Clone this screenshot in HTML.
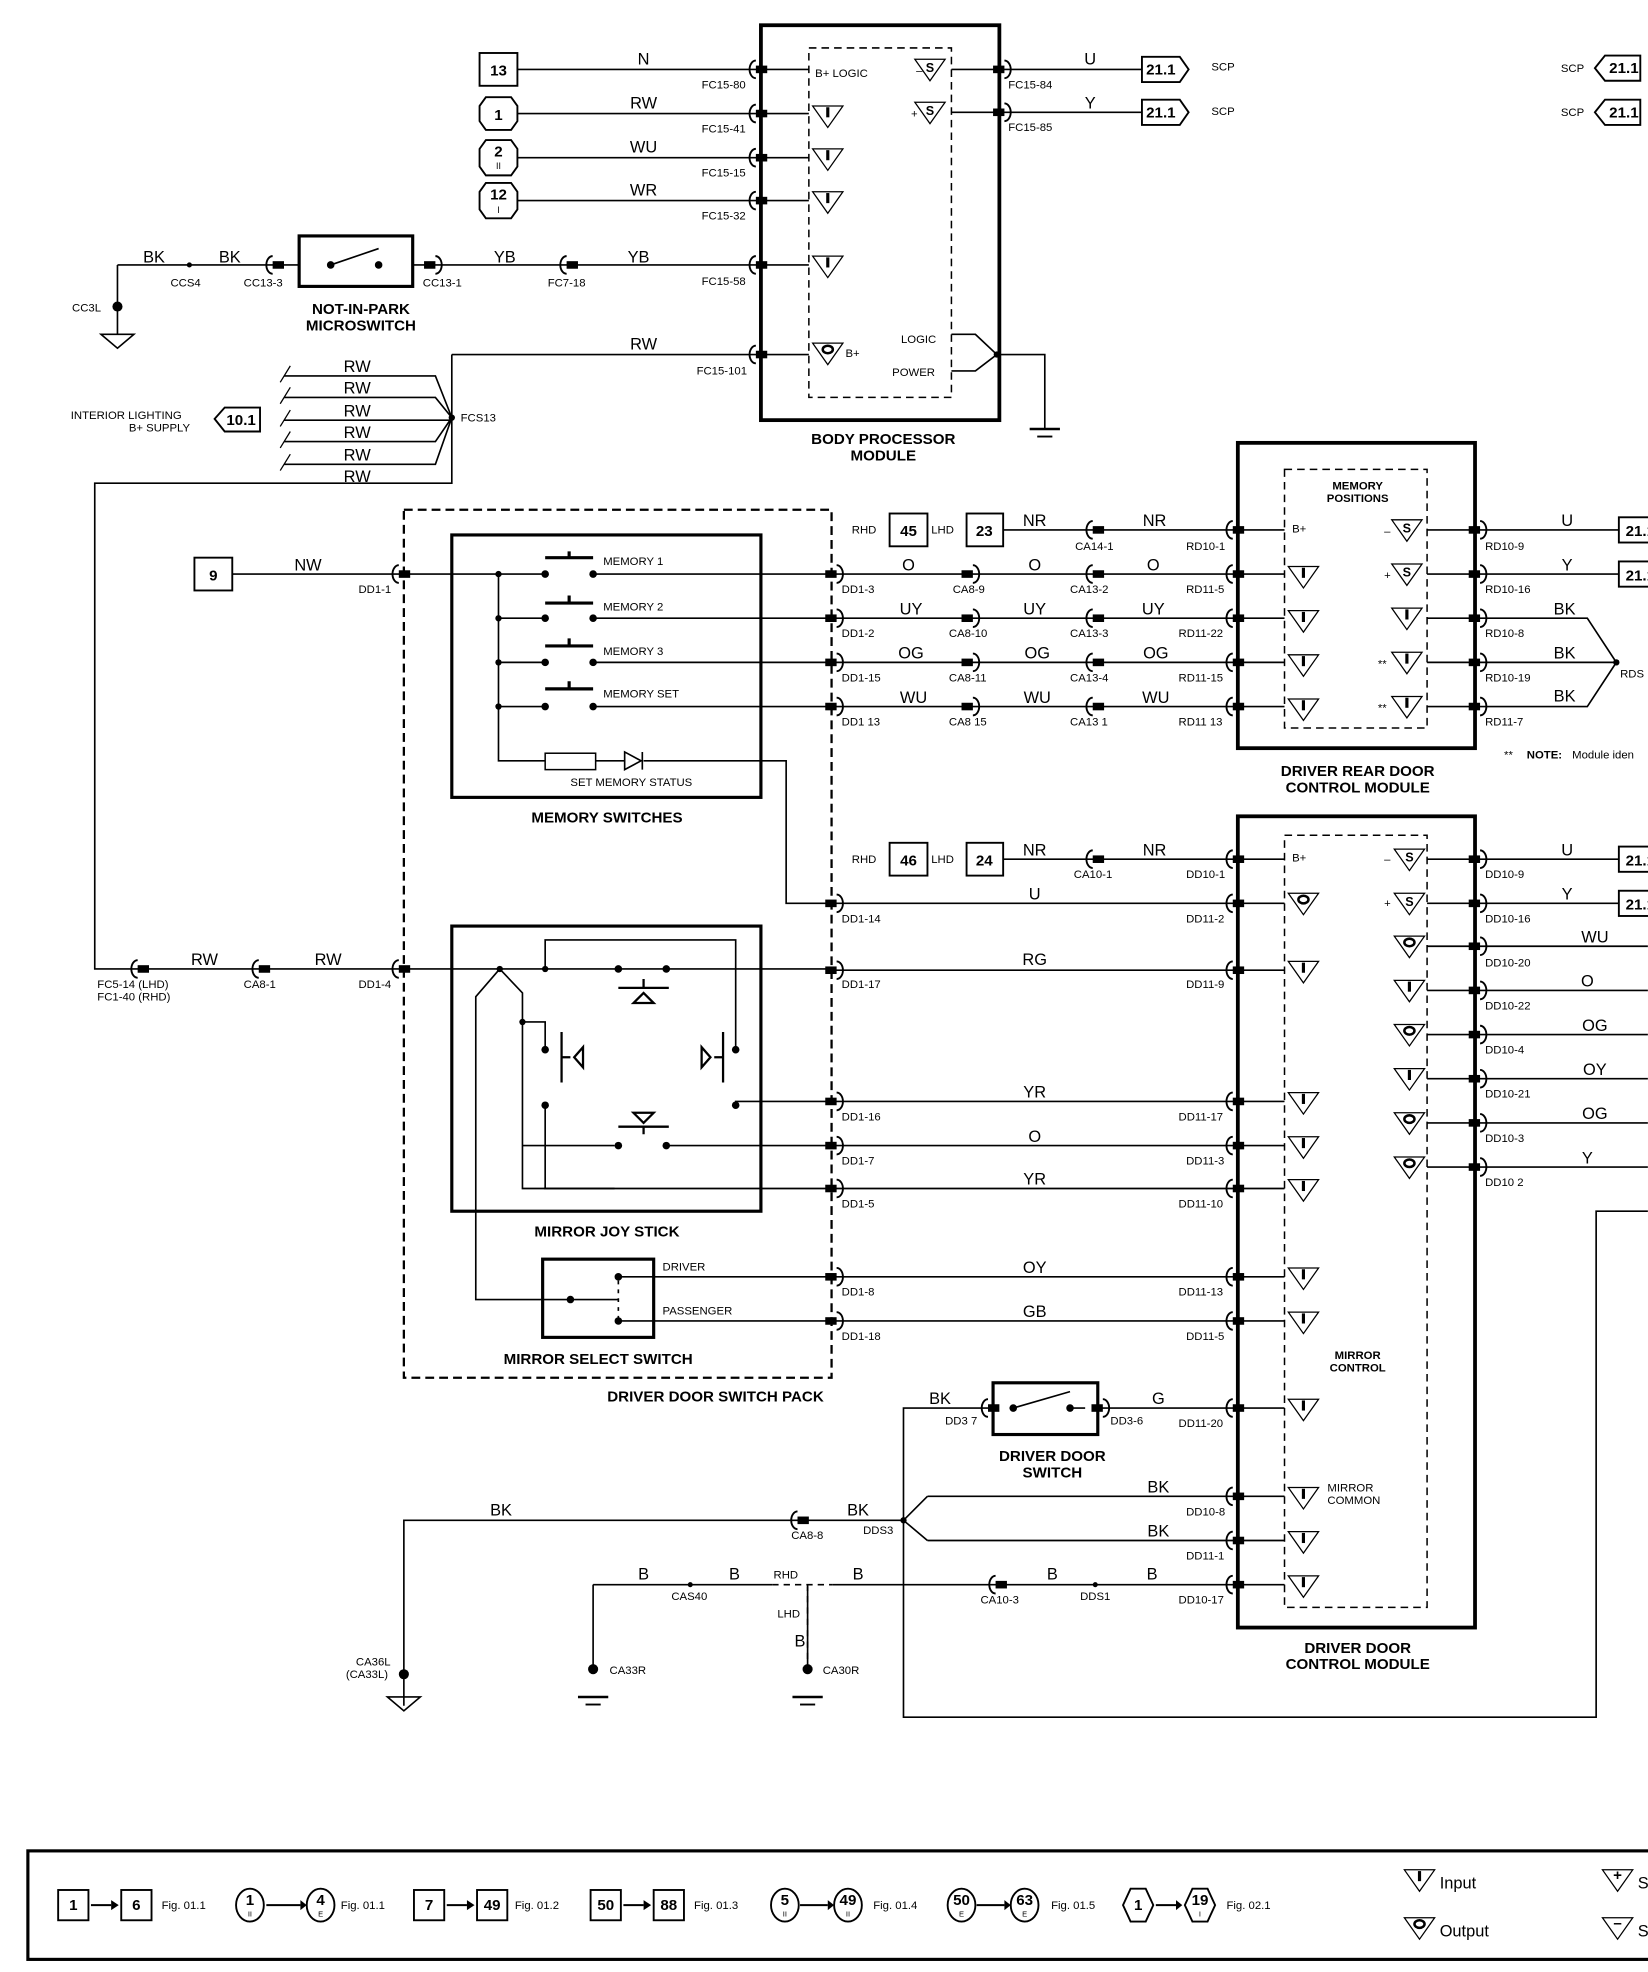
<!DOCTYPE html>
<html><head><meta charset="utf-8"><style>
html,body{margin:0;padding:0;background:#fff}
svg{display:block}
text{font-family:"Liberation Sans",sans-serif;fill:#000}
.w{font-size:13px}
.c{font-size:9px}
.b{font-size:12px;font-weight:bold}
.s{font-size:10px}
</style></head><body>
<svg width="1648" height="1972" viewBox="0 0 1306 1563" xmlns="http://www.w3.org/2000/svg">
<defs>
<g id="cl"><path d="M1,-7 A5,7 0 0 0 1,7" fill="none" stroke="#000" stroke-width="1.5"/><rect x="1" y="-3" width="9" height="6"/></g>
<g id="cr"><path d="M-1,-7 A5,7 0 0 1 -1,7" fill="none" stroke="#000" stroke-width="1.5"/><rect x="-10" y="-3" width="9" height="6"/></g>
<g id="ti"><polygon points="-12,-8 12,-8 0,9" fill="#fff" stroke="#000" stroke-width="1"/><line x1="0" y1="-7" x2="0" y2="1" stroke="#000" stroke-width="2.5"/></g>
<g id="to"><polygon points="-12,-8 12,-8 0,9" fill="#fff" stroke="#000" stroke-width="1"/><ellipse cx="0" cy="-3" rx="4" ry="3" fill="none" stroke="#000" stroke-width="2"/></g>
<g id="ts"><polygon points="-12,-8 12,-8 0,9" fill="#fff" stroke="#000" stroke-width="1"/></g>
<g id="gnd"><line x1="-12" y1="0" x2="12" y2="0" stroke="#000" stroke-width="2"/><line x1="-6" y1="6" x2="6" y2="6" stroke="#000" stroke-width="1.5"/></g>
</defs>
<g stroke="#000" fill="none" stroke-width="1.3">
<rect x="603" y="20" width="189" height="313" stroke-width="3"/>
<rect x="641" y="38" width="113" height="277" stroke-dasharray="6,4" stroke-width="1.2"/>
<path d="M410,55H641 M410,90H641 M410,125H641 M410,159H641 M327,210H641 M358,281H641"/>
<path d="M754,55H905 M754,89H905"/>
<path d="M754,265H773L790,281L773,294H754 M790,281H828V340"/>
<path d="M93,210H237 M93,210V265 M80,265L93,276L106,265Z"/>
<path d="M358,281V383H75V768H320"/>
<path d="M225,298H345L358,331 M225,315H345L358,331 M225,333H358 M225,350H345L358,331 M225,368H345L358,331"/>
<path d="M222,303L230,290 M222,320L230,307 M222,338L230,325 M222,355L230,342 M222,373L230,360" stroke-width="1"/>
<rect x="320" y="404" width="339" height="688" stroke-dasharray="7,4" stroke-width="1.8"/>
<rect x="358" y="424" width="245" height="208" stroke-width="2.5"/>
<path d="M184,455H432 M395,455V603H432 M395,490H432 M395,525H432 M395,560H432"/>
<path d="M470,455H659 M470,490H659 M470,525H659 M470,560H659"/>
<path d="M472,603H495 M510,603H623V716H659"/>
<rect x="432" y="597" width="40" height="13" stroke-width="1.2"/>
<path d="M495,596V610L508,603Z M509,596V610"/>
<path d="M432,442H470 M451,437V442" stroke-width="2.5"/>
<path d="M432,478H470 M451,472V478 M432,512H470 M451,506V512 M432,546H470 M451,540V546" stroke-width="2.5"/>
<rect x="981" y="351" width="188" height="242" stroke-width="3"/>
<rect x="1018" y="372" width="113" height="205" stroke-dasharray="6,4" stroke-width="1.2"/>
<path d="M795,420H1018 M659,455H1018 M659,490H1018 M659,525H1018 M659,560H1018"/>
<path d="M1131,420H1283 M1131,455H1283 M1131,490H1258L1281,525 M1131,525H1281 M1131,560H1258L1281,525"/>
<rect x="981" y="647" width="188" height="643" stroke-width="3"/>
<rect x="1018" y="662" width="113" height="612" stroke-dasharray="6,4" stroke-width="1.2"/>
<path d="M795,681H1018 M659,716H1018 M659,769H1018 M659,873H1018 M659,908H1018 M659,942H1018 M659,1012H1018 M659,1047H1018 M870,1116H1018 M735,1186H1018 M735,1221H1018 M470,1256H1018"/>
<path d="M1131,681H1283 M1131,716H1283 M1131,750H1306 M1131,785H1306 M1131,820H1306 M1131,855H1306 M1131,890H1306 M1131,925H1306"/>
<path d="M1306,960H1265V1361H716V1116H787"/>
<path d="M320,1352V1205H716L735,1186 M716,1205L735,1221"/>
<path d="M470,1256V1320 M640,1256V1320"/>
<path d="M612,1256H660" stroke="#fff" stroke-width="3"/>
<path d="M612,1256H660 M640,1256V1320" stroke-dasharray="5,4"/>
<rect x="358" y="734" width="245" height="226" stroke-width="2.5"/>
<path d="M320,768H615 M528,768H659 M432,768V745H583V832 M396,768L377,790V1030H452 M396,768L414,787V942H488 M414,810H432V830 M432,876V942H659 M583,876V873H659 M528,942H659"/>
<path d="M431,942H487" />
<path d="M528,908H659 M414,908H487"/>
<path d="M490,783H530 M510,776V783 M502,795L510,787L518,795Z M490,893H530 M510,893V899 M502,882L510,890L518,882Z" stroke-width="1.8"/>
<path d="M445,818V858 M445,838H452 M462,830V846L455,838Z M573,818V858 M566,838H573 M556,830V846L563,838Z" stroke-width="1.8"/>
<rect x="430" y="998" width="88" height="62" stroke-width="2.5"/>
<path d="M490,1012H659 M490,1047H659 M452,1030H490"/>
<path d="M490,1015V1045" stroke-dasharray="3,4"/>
<rect x="787" y="1096" width="83" height="41" stroke-width="2.5"/>
<path d="M800,1116H803 M848,1116H860 M803,1116L848,1103"/>
</g>
<g fill="#000">
<circle cx="150" cy="210" r="2"/><circle cx="262" cy="210" r="3"/><circle cx="300" cy="210" r="3"/>
<circle cx="358" cy="331" r="2.5"/><circle cx="790" cy="281" r="2.5"/><circle cx="1281" cy="525" r="2.5"/>
<circle cx="395" cy="455" r="2.5"/><circle cx="395" cy="490" r="2.5"/><circle cx="395" cy="525" r="2.5"/><circle cx="395" cy="560" r="2.5"/>
<circle cx="432" cy="455" r="3"/><circle cx="470" cy="455" r="3"/><circle cx="432" cy="490" r="3"/><circle cx="470" cy="490" r="3"/><circle cx="432" cy="525" r="3"/><circle cx="470" cy="525" r="3"/><circle cx="432" cy="560" r="3"/><circle cx="470" cy="560" r="3"/>
<circle cx="396" cy="768" r="2.5"/><circle cx="432" cy="768" r="2.5"/><circle cx="490" cy="768" r="3"/><circle cx="528" cy="768" r="3"/>
<circle cx="414" cy="810" r="2.5"/><circle cx="432" cy="832" r="3"/><circle cx="432" cy="876" r="3"/><circle cx="583" cy="832" r="3"/><circle cx="583" cy="876" r="3"/>
<circle cx="490" cy="908" r="3"/><circle cx="528" cy="908" r="3"/>
<circle cx="452" cy="1030" r="3"/><circle cx="490" cy="1012" r="3"/><circle cx="490" cy="1047" r="3"/>
<circle cx="803" cy="1116" r="3"/><circle cx="848" cy="1116" r="3"/>
<circle cx="716" cy="1205" r="2.5"/><circle cx="547" cy="1256" r="2"/><circle cx="868" cy="1256" r="2"/>
<circle cx="93" cy="243" r="4"/><circle cx="320" cy="1327" r="4"/><circle cx="470" cy="1323" r="4"/><circle cx="640" cy="1323" r="4"/>
</g>
<g fill="none" stroke="#000" stroke-width="1.3">
<path d="M307,1345L320,1356L333,1345Z"/>
</g>
<use href="#gnd" x="828" y="340"/><use href="#gnd" x="470" y="1345"/><use href="#gnd" x="640" y="1345"/>
<use href="#cl" x="598" y="55"/><use href="#cl" x="598" y="90"/><use href="#cl" x="598" y="125"/><use href="#cl" x="598" y="159"/><use href="#cl" x="598" y="210"/><use href="#cl" x="598" y="281"/>
<use href="#cr" x="797" y="55"/><use href="#cr" x="797" y="89"/>
<use href="#cl" x="215" y="210"/><use href="#cr" x="346" y="210"/><use href="#cl" x="448" y="210"/>
<use href="#cl" x="976" y="420"/><use href="#cl" x="976" y="455"/><use href="#cl" x="976" y="490"/><use href="#cl" x="976" y="525"/><use href="#cl" x="976" y="560"/>
<use href="#cr" x="1174" y="420"/><use href="#cr" x="1174" y="455"/><use href="#cr" x="1174" y="490"/><use href="#cr" x="1174" y="525"/><use href="#cr" x="1174" y="560"/>
<use href="#cl" x="865" y="420"/><use href="#cr" x="772" y="455"/><use href="#cr" x="772" y="490"/><use href="#cr" x="772" y="525"/><use href="#cr" x="772" y="560"/>
<use href="#cl" x="865" y="455"/><use href="#cl" x="865" y="490"/><use href="#cl" x="865" y="525"/><use href="#cl" x="865" y="560"/>
<use href="#cl" x="315" y="455"/><use href="#cl" x="315" y="768"/>
<use href="#cr" x="664" y="455"/><use href="#cr" x="664" y="490"/><use href="#cr" x="664" y="525"/><use href="#cr" x="664" y="560"/><use href="#cr" x="664" y="716"/><use href="#cr" x="664" y="769"/><use href="#cr" x="664" y="873"/><use href="#cr" x="664" y="908"/><use href="#cr" x="664" y="942"/><use href="#cr" x="664" y="1012"/><use href="#cr" x="664" y="1047"/>
<use href="#cl" x="108" y="768"/><use href="#cl" x="204" y="768"/>
<use href="#cl" x="865" y="681"/><use href="#cl" x="631" y="1205"/><use href="#cl" x="788" y="1256"/>
<use href="#cl" x="976" y="681"/><use href="#cl" x="976" y="716"/><use href="#cl" x="976" y="769"/><use href="#cl" x="976" y="873"/><use href="#cl" x="976" y="908"/><use href="#cl" x="976" y="942"/><use href="#cl" x="976" y="1012"/><use href="#cl" x="976" y="1047"/><use href="#cl" x="976" y="1116"/><use href="#cl" x="976" y="1186"/><use href="#cl" x="976" y="1221"/><use href="#cl" x="976" y="1256"/>
<use href="#cr" x="1174" y="681"/><use href="#cr" x="1174" y="716"/><use href="#cr" x="1174" y="750"/><use href="#cr" x="1174" y="785"/><use href="#cr" x="1174" y="820"/><use href="#cr" x="1174" y="855"/><use href="#cr" x="1174" y="890"/><use href="#cr" x="1174" y="925"/>
<use href="#cl" x="782" y="1116"/><use href="#cr" x="875" y="1116"/>
<use href="#ti" x="656" y="92"/><use href="#ti" x="656" y="126"/><use href="#ti" x="656" y="160"/><use href="#ti" x="656" y="211"/><use href="#to" x="656" y="280"/>
<use href="#ts" x="737" y="55"/><use href="#ts" x="737" y="89"/>
<use href="#ti" x="1033" y="457"/><use href="#ti" x="1033" y="492"/><use href="#ti" x="1033" y="527"/><use href="#ti" x="1033" y="562"/>
<use href="#ts" x="1115" y="420"/><use href="#ts" x="1115" y="455"/><use href="#ti" x="1115" y="490"/><use href="#ti" x="1115" y="525"/><use href="#ti" x="1115" y="560"/>
<use href="#to" x="1033" y="716"/><use href="#ti" x="1033" y="770"/><use href="#ti" x="1033" y="874"/><use href="#ti" x="1033" y="909"/><use href="#ti" x="1033" y="943"/><use href="#ti" x="1033" y="1013"/><use href="#ti" x="1033" y="1048"/><use href="#ti" x="1033" y="1117"/><use href="#ti" x="1033" y="1187"/><use href="#ti" x="1033" y="1222"/><use href="#ti" x="1033" y="1257"/>
<use href="#ts" x="1117" y="681"/><use href="#ts" x="1117" y="716"/><use href="#to" x="1117" y="750"/><use href="#ti" x="1117" y="785"/><use href="#to" x="1117" y="820"/><use href="#ti" x="1117" y="855"/><use href="#to" x="1117" y="890"/><use href="#to" x="1117" y="925"/>
<g font-weight="bold" font-size="10" text-anchor="middle">
<text x="737" y="57">S</text><text x="737" y="91">S</text><text x="1115" y="422">S</text><text x="1115" y="457">S</text><text x="1117" y="683">S</text><text x="1117" y="718">S</text>
</g>
<g fill="#fff" stroke="#000" stroke-width="1.5">
<rect x="380" y="42" width="30" height="26"/>
<polygon points="385,77 405,77 410,84 410,96 405,103 385,103 380,96 380,84"/>
<polygon points="385,111 405,111 410,118 410,132 405,139 385,139 380,132 380,118"/>
<polygon points="385,145 405,145 410,152 410,166 405,173 385,173 380,166 380,152"/>
<polygon points="905,45 935,45 942,55 935,65 905,65"/>
<polygon points="905,79 935,79 942,89 935,99 905,99"/>
<polygon points="1272,44 1300,44 1300,64 1272,64 1264,54"/>
<polygon points="1272,79 1300,79 1300,99 1272,99 1264,89"/>
<polygon points="178,323 206,323 206,342 178,342 170,332"/>
<rect x="154" y="442" width="30" height="26"/>
<rect x="705" y="407" width="30" height="26"/><rect x="766" y="407" width="29" height="26"/>
<rect x="705" y="668" width="30" height="26"/><rect x="766" y="668" width="29" height="26"/>
<rect x="1283" y="410" width="30" height="20"/><rect x="1283" y="445" width="30" height="20"/>
<rect x="1283" y="671" width="30" height="20"/><rect x="1283" y="706" width="30" height="20"/>
</g>
<rect x="237" y="187" width="90" height="40" fill="none" stroke="#000" stroke-width="2.5"/>
<path d="M262,210L300,197" stroke="#000" stroke-width="1.3"/>
<g class="b" text-anchor="middle">
<text x="395" y="60">13</text><text x="395" y="95">1</text><text x="395" y="124">2</text><text x="395" y="158">12</text>
<text x="920" y="59">21.1</text><text x="920" y="93">21.1</text><text x="1287" y="58">21.1</text><text x="1287" y="93">21.1</text>
<text x="191" y="337">10.1</text><text x="169" y="460">9</text>
<text x="720" y="425">45</text><text x="780" y="425">23</text><text x="720" y="686">46</text><text x="780" y="686">24</text>
<text x="1300" y="425">21.1</text><text x="1300" y="460">21.1</text><text x="1300" y="686">21.1</text><text x="1300" y="721">21.1</text>
<text x="286" y="249">NOT-IN-PARK</text><text x="286" y="262">MICROSWITCH</text>
<text x="700" y="352">BODY PROCESSOR</text><text x="700" y="365">MODULE</text>
<text x="1076" y="615">DRIVER REAR DOOR</text><text x="1076" y="628">CONTROL MODULE</text>
<text x="481" y="652">MEMORY SWITCHES</text><text x="481" y="980">MIRROR JOY STICK</text><text x="474" y="1081">MIRROR SELECT SWITCH</text>
<text x="567" y="1111">DRIVER DOOR SWITCH PACK</text>
<text x="834" y="1158">DRIVER DOOR</text><text x="834" y="1171">SWITCH</text>
<text x="1076" y="1310">DRIVER DOOR</text><text x="1076" y="1323">CONTROL MODULE</text>
</g>
<g font-size="7" text-anchor="middle"><text x="395" y="134">II</text><text x="395" y="169">I</text></g>
<g class="w" text-anchor="middle">
<text x="510" y="51">N</text><text x="510" y="86">RW</text><text x="510" y="121">WU</text><text x="510" y="155">WR</text>
<text x="122" y="208">BK</text><text x="182" y="208">BK</text><text x="400" y="208">YB</text><text x="506" y="208">YB</text><text x="510" y="277">RW</text>
<text x="864" y="51">U</text><text x="864" y="86">Y</text>
<text x="283" y="295">RW</text><text x="283" y="312">RW</text><text x="283" y="330">RW</text><text x="283" y="347">RW</text><text x="283" y="365">RW</text><text x="283" y="382">RW</text>
<text x="244" y="452">NW</text>
<text x="820" y="417">NR</text><text x="915" y="417">NR</text>
<text x="720" y="452">O</text><text x="820" y="452">O</text><text x="914" y="452">O</text>
<text x="722" y="487">UY</text><text x="820" y="487">UY</text><text x="914" y="487">UY</text>
<text x="722" y="522">OG</text><text x="822" y="522">OG</text><text x="916" y="522">OG</text>
<text x="724" y="557">WU</text><text x="822" y="557">WU</text><text x="916" y="557">WU</text>
<text x="1242" y="417">U</text><text x="1242" y="452">Y</text><text x="1240" y="487">BK</text><text x="1240" y="522">BK</text><text x="1240" y="556">BK</text>
<text x="820" y="678">NR</text><text x="915" y="678">NR</text><text x="820" y="713">U</text>
<text x="162" y="765">RW</text><text x="260" y="765">RW</text>
<text x="820" y="765">RG</text><text x="820" y="870">YR</text><text x="820" y="905">O</text><text x="820" y="939">YR</text><text x="820" y="1009">OY</text><text x="820" y="1044">GB</text>
<text x="1242" y="678">U</text><text x="1242" y="713">Y</text><text x="1264" y="747">WU</text><text x="1258" y="782">O</text><text x="1264" y="817">OG</text><text x="1264" y="852">OY</text><text x="1264" y="887">OG</text><text x="1258" y="922">Y</text>
<text x="745" y="1113">BK</text><text x="918" y="1113">G</text><text x="918" y="1183">BK</text><text x="918" y="1218">BK</text>
<text x="397" y="1201">BK</text><text x="680" y="1201">BK</text>
<text x="510" y="1252">B</text><text x="582" y="1252">B</text><text x="680" y="1252">B</text><text x="834" y="1252">B</text><text x="913" y="1252">B</text><text x="634" y="1305">B</text>
</g>
<g class="c">
<text x="556" y="70">FC15-80</text><text x="556" y="105">FC15-41</text><text x="556" y="140">FC15-15</text><text x="556" y="174">FC15-32</text><text x="556" y="226">FC15-58</text><text x="552" y="297">FC15-101</text>
<text x="799" y="70">FC15-84</text><text x="799" y="104">FC15-85</text>
<text x="135" y="227">CCS4</text><text x="193" y="227">CC13-3</text><text x="335" y="227">CC13-1</text><text x="434" y="227">FC7-18</text><text x="57" y="247">CC3L</text>
<text x="365" y="334">FCS13</text><text x="960" y="56">SCP</text><text x="960" y="91">SCP</text><text x="1237" y="57">SCP</text><text x="1237" y="92">SCP</text>
<text x="56" y="332">INTERIOR LIGHTING</text><text x="102" y="342">B+ SUPPLY</text>
<text x="284" y="470">DD1-1</text><text x="284" y="783">DD1-4</text><text x="77" y="783">FC5-14 (LHD)</text><text x="77" y="793">FC1-40 (RHD)</text><text x="193" y="783">CA8-1</text>
<text x="675" y="423">RHD</text><text x="738" y="423">LHD</text><text x="675" y="684">RHD</text><text x="738" y="684">LHD</text>
<text x="852" y="436">CA14-1</text><text x="940" y="436">RD10-1</text>
<text x="667" y="470">DD1-3</text><text x="755" y="470">CA8-9</text><text x="848" y="470">CA13-2</text><text x="940" y="470">RD11-5</text>
<text x="667" y="505">DD1-2</text><text x="752" y="505">CA8-10</text><text x="848" y="505">CA13-3</text><text x="934" y="505">RD11-22</text>
<text x="667" y="540">DD1-15</text><text x="752" y="540">CA8-11</text><text x="848" y="540">CA13-4</text><text x="934" y="540">RD11-15</text>
<text x="667" y="575">DD1 13</text><text x="752" y="575">CA8 15</text><text x="848" y="575">CA13 1</text><text x="934" y="575">RD11 13</text>
<text x="1177" y="436">RD10-9</text><text x="1177" y="470">RD10-16</text><text x="1177" y="505">RD10-8</text><text x="1177" y="540">RD10-19</text><text x="1177" y="575">RD11-7</text><text x="1284" y="537">RDS</text>
<text x="478" y="448">MEMORY 1</text><text x="478" y="484">MEMORY 2</text><text x="478" y="519">MEMORY 3</text><text x="478" y="553">MEMORY SET</text><text x="452" y="623">SET MEMORY STATUS</text>
<text x="851" y="696">CA10-1</text><text x="940" y="696">DD10-1</text><text x="667" y="731">DD1-14</text><text x="940" y="731">DD11-2</text>
<text x="667" y="783">DD1-17</text><text x="940" y="783">DD11-9</text><text x="667" y="888">DD1-16</text><text x="934" y="888">DD11-17</text>
<text x="667" y="923">DD1-7</text><text x="940" y="923">DD11-3</text><text x="667" y="957">DD1-5</text><text x="934" y="957">DD11-10</text>
<text x="667" y="1027">DD1-8</text><text x="934" y="1027">DD11-13</text><text x="667" y="1062">DD1-18</text><text x="940" y="1062">DD11-5</text>
<text x="525" y="1007">DRIVER</text><text x="525" y="1042">PASSENGER</text>
<text x="749" y="1129">DD3 7</text><text x="880" y="1129">DD3-6</text><text x="934" y="1131">DD11-20</text>
<text x="940" y="1201">DD10-8</text><text x="940" y="1236">DD11-1</text><text x="934" y="1271">DD10-17</text>
<text x="627" y="1220">CA8-8</text><text x="684" y="1216">DDS3</text><text x="532" y="1268">CAS40</text><text x="613" y="1251">RHD</text><text x="616" y="1282">LHD</text>
<text x="777" y="1271">CA10-3</text><text x="856" y="1268">DDS1</text><text x="483" y="1327">CA33R</text><text x="652" y="1327">CA30R</text><text x="282" y="1320">CA36L</text><text x="274" y="1330">(CA33L)</text>
<text x="1177" y="696">DD10-9</text><text x="1177" y="731">DD10-16</text><text x="1177" y="766">DD10-20</text><text x="1177" y="800">DD10-22</text><text x="1177" y="835">DD10-4</text><text x="1177" y="870">DD10-21</text><text x="1177" y="905">DD10-3</text><text x="1177" y="940">DD10 2</text>
<text x="646" y="61">B+ LOGIC</text><text x="670" y="283">B+</text><text x="714" y="272">LOGIC</text><text x="707" y="298">POWER</text>
<text x="1024" y="422">B+</text><text x="1024" y="683">B+</text><text x="726" y="59">–</text><text x="722" y="93">+</text><text x="1097" y="424">–</text><text x="1097" y="459">+</text><text x="1092" y="529">**</text><text x="1092" y="564">**</text>
<text x="1097" y="684">–</text><text x="1097" y="719">+</text>
<text x="1192" y="601">**</text><text x="1210" y="601" font-weight="bold">NOTE:</text><text x="1246" y="601">Module iden</text>
</g>
<g font-size="9" font-weight="bold" text-anchor="middle">
<text x="1076" y="388">MEMORY</text><text x="1076" y="398">POSITIONS</text>
<text x="1076" y="1077">MIRROR</text><text x="1076" y="1087">CONTROL</text>
</g>
<g font-size="9"><text x="1052" y="1182">MIRROR</text><text x="1052" y="1192">COMMON</text></g>
<rect x="22" y="1467" width="1290" height="86" fill="none" stroke="#000" stroke-width="2.5"/>
<g stroke="#000" stroke-width="1.5" fill="#fff">
<rect x="46" y="1498" width="24" height="24"/><rect x="96" y="1498" width="24" height="24"/>
<ellipse cx="198" cy="1510" rx="11" ry="13"/><ellipse cx="254" cy="1510" rx="11" ry="13"/>
<rect x="328" y="1498" width="24" height="24"/><rect x="378" y="1498" width="24" height="24"/>
<rect x="468" y="1498" width="24" height="24"/><rect x="518" y="1498" width="24" height="24"/>
<ellipse cx="622" cy="1510" rx="11" ry="13"/><ellipse cx="672" cy="1510" rx="11" ry="13"/>
<ellipse cx="762" cy="1510" rx="11" ry="13"/><ellipse cx="812" cy="1510" rx="11" ry="13"/>
<polygon points="896,1497 908,1497 914,1510 908,1523 896,1523 890,1510"/><polygon points="945,1497 957,1497 963,1510 957,1523 945,1523 939,1510"/>
</g>
<path d="M72,1510H88 M211,1510H238 M354,1510H370 M494,1510H510 M634,1510H656 M774,1510H796 M916,1510H932" stroke="#000" stroke-width="1.5" fill="none"/>
<g fill="#000"><polygon points="88,1506 94,1510 88,1514"/><polygon points="238,1506 243,1510 238,1514"/><polygon points="370,1506 376,1510 370,1514"/><polygon points="510,1506 516,1510 510,1514"/><polygon points="656,1506 661,1510 656,1514"/><polygon points="796,1506 801,1510 796,1514"/><polygon points="932,1506 937,1510 932,1514"/></g>
<g class="b" text-anchor="middle" font-size="11">
<text x="58" y="1514">1</text><text x="108" y="1514">6</text><text x="198" y="1510">1</text><text x="254" y="1510">4</text>
<text x="340" y="1514">7</text><text x="390" y="1514">49</text><text x="480" y="1514">50</text><text x="530" y="1514">88</text>
<text x="622" y="1510">5</text><text x="672" y="1510">49</text><text x="762" y="1510">50</text><text x="812" y="1510">63</text>
<text x="902" y="1514">1</text><text x="951" y="1510">19</text>
</g>
<g font-size="6" text-anchor="middle"><text x="198" y="1519">II</text><text x="254" y="1519">E</text><text x="622" y="1519">II</text><text x="672" y="1519">II</text><text x="762" y="1519">E</text><text x="812" y="1519">E</text><text x="951" y="1519">I</text></g>
<g class="c"><text x="128" y="1513">Fig. 01.1</text><text x="270" y="1513">Fig. 01.1</text><text x="408" y="1513">Fig. 01.2</text><text x="550" y="1513">Fig. 01.3</text><text x="692" y="1513">Fig. 01.4</text><text x="833" y="1513">Fig. 01.5</text><text x="972" y="1513">Fig. 02.1</text></g>
<use href="#ti" x="1125" y="1490"/><use href="#to" x="1125" y="1528"/><use href="#ts" x="1282" y="1490"/><use href="#ts" x="1282" y="1528"/>
<g font-size="13"><text x="1141" y="1497">Input</text><text x="1141" y="1535">Output</text><text x="1298" y="1497">S</text><text x="1298" y="1535">S</text></g>
<g font-weight="bold" font-size="12" text-anchor="middle"><text x="1282" y="1490">+</text><text x="1282" y="1528">–</text></g>
</svg>
</body></html>
